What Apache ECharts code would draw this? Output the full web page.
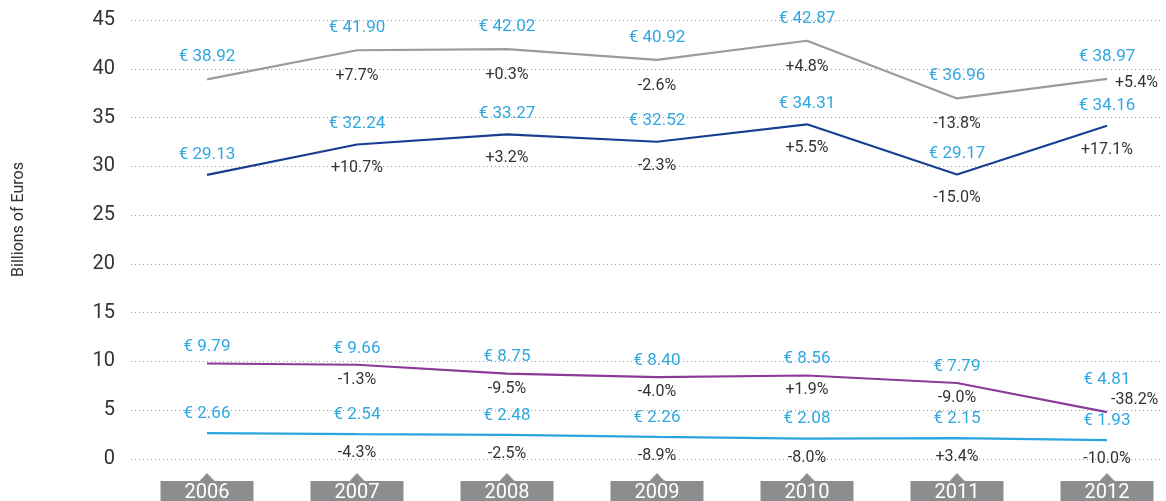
<!DOCTYPE html>
<html>
<head>
<meta charset="utf-8">
<title>Billions of Euros</title>
<script src="https://cdn.jsdelivr.net/npm/echarts@6/dist/echarts.min.js"></script>
<style>
  html, body {margin: 0; padding: 0; background: #fff;}
  #chart {width: 1166px; height: 501px;}
</style>
</head>
<body>
<div id="chart"></div>
<script>
// data
var years = ['2006', '2007', '2008', '2009', '2010', '2011', '2012']
var yTicks = [0, 5, 10, 15, 20, 25, 30, 35, 40, 45]

var grayValues = [38.92, 41.90, 42.02, 40.92, 42.87, 36.96, 38.97]
var grayChange = ['', '+7.7%', '+0.3%', '-2.6%', '+4.8%', '-13.8%', '+5.4%']

var navyValues = [29.13, 32.24, 33.27, 32.52, 34.31, 29.17, 34.16]
var navyChange = ['', '+10.7%', '+3.2%', '-2.3%', '+5.5%', '-15.0%', '+17.1%']

var purpleValues = [9.79, 9.66, 8.75, 8.40, 8.56, 7.79, 4.81]
var purpleChange = ['', '-1.3%', '-9.5%', '-4.0%', '+1.9%', '-9.0%', '-38.2%']

var blueValues = [2.66, 2.54, 2.48, 2.26, 2.08, 2.15, 1.93]
var blueChange = ['', '-4.3%', '-2.5%', '-8.9%', '-8.0%', '+3.4%', '-10.0%']

var FONT = 'Roboto, "DejaVu Sans", sans-serif'
var VALUE_COLOR = '#2fa8e0'
var CHANGE_COLOR = '#333'
var BOX_GRAY = '#8d8d8f'

/* little pointer above each year box */
var tri = document.createElement('canvas')
tri.width = 15
tri.height = 8
var ctx = tri.getContext('2d')
ctx.fillStyle = BOX_GRAY
ctx.beginPath()
ctx.moveTo(0, 8)
ctx.lineTo(7.5, 0)
ctx.lineTo(15, 8)
ctx.closePath()
ctx.fill()

function lineSeries (name, values, color, dist, overrides) {
  overrides = overrides || {}
  return {
    name: name,
    type: 'line',
    xAxisIndex: 1,
    yAxisIndex: 1,
    symbol: 'circle',
    symbolSize: 0,
    lineStyle: {color: color, width: 2.2},
    itemStyle: {color: color},
    z: 3,
    label: {
      show: true,
      position: 'top',
      distance: dist,
      color: VALUE_COLOR,
      fontFamily: FONT,
      fontSize: 17,
      formatter: function (p) { return '€ ' + p.value.toFixed(2) }
    },
    data: values.map(function (v, i) {
      return overrides[i] ? {value: v, label: overrides[i]} : v
    })
  }
}

function changeSeries (name, values, changes, dist, overrides) {
  overrides = overrides || {}
  return {
    name: name + ' change',
    type: 'line',
    xAxisIndex: 1,
    yAxisIndex: 1,
    symbol: 'circle',
    symbolSize: 0,
    lineStyle: {opacity: 0},
    itemStyle: {color: 'transparent'},
    z: 4,
    label: {
      show: true,
      position: 'bottom',
      distance: dist,
      color: CHANGE_COLOR,
      fontFamily: FONT,
      fontSize: 16,
      formatter: function (p) { return changes[p.dataIndex] }
    },
    data: values.map(function (v, i) {
      return overrides[i] ? {value: v, label: overrides[i]} : v
    })
  }
}

var chart = echarts.init(document.getElementById('chart'))
chart.setOption({
  animation: false,
  backgroundColor: '#fff',
  /* grid 0 holds the dotted guides and y labels, grid 1 the lines */
  grid: [
    {left: 131, right: 3, top: 20, bottom: 42, outerBoundsMode: 'none'},
    {left: 207, right: 59, top: 20, bottom: 42, outerBoundsMode: 'none'}
  ],
  xAxis: [{
    gridIndex: 0,
    type: 'category',
    data: years,
    show: false
  }, {
    gridIndex: 1,
    type: 'category',
    data: years,
    boundaryGap: false,
    axisLine: {show: false},
    axisTick: {show: false},
    splitLine: {show: false},
    axisLabel: {
      margin: 14,
      formatter: function (v) { return '{t|}\n{y|' + v + '}' },
      rich: {
        t: {width: 15, height: 8, backgroundColor: {image: tri}},
        y: {
          width: 93,
          height: 24,
          lineHeight: 24,
          align: 'center',
          backgroundColor: BOX_GRAY,
          color: '#fff',
          fontFamily: FONT,
          fontSize: 20
        }
      }
    }
  }],
  yAxis: [{
    gridIndex: 0,
    type: 'value',
    min: yTicks[0],
    max: yTicks[yTicks.length - 1],
    interval: yTicks[1] - yTicks[0],
    name: 'Billions of Euros',
    nameLocation: 'middle',
    nameRotate: 90,
    nameGap: 104,
    nameTextStyle: {color: '#333', fontFamily: FONT, fontSize: 16, padding: [0, 0, 0, 40]},
    axisLine: {show: false},
    axisTick: {show: false},
    axisLabel: {margin: 16, color: '#333', fontFamily: FONT, fontSize: 20},
    splitLine: {lineStyle: {color: '#9a9a9a', type: [1, 3], width: 1}}
  }, {
    gridIndex: 1,
    type: 'value',
    min: yTicks[0],
    max: yTicks[yTicks.length - 1],
    interval: yTicks[1] - yTicks[0],
    show: false,
    splitLine: {show: false}
  }],
  series: [
    lineSeries('gray', grayValues, '#9b9b9b', 14),
    changeSeries('gray', grayValues, grayChange, 18, {6: {position: 'right', distance: 8, offset: [0, 4]}}),
    lineSeries('navy', navyValues, '#183f8f', 12),
    changeSeries('navy', navyValues, navyChange, 16),
    lineSeries('purple', purpleValues, '#8b3a98', 8, {6: {distance: 24}}),
    changeSeries('purple', purpleValues, purpleChange, 7, {6: {position: 'right', distance: 4, offset: [0, -12]}}),
    lineSeries('blue', blueValues, '#29a6df', 11),
    changeSeries('blue', blueValues, blueChange, 11)
  ]
})
</script>
</body>
</html>
